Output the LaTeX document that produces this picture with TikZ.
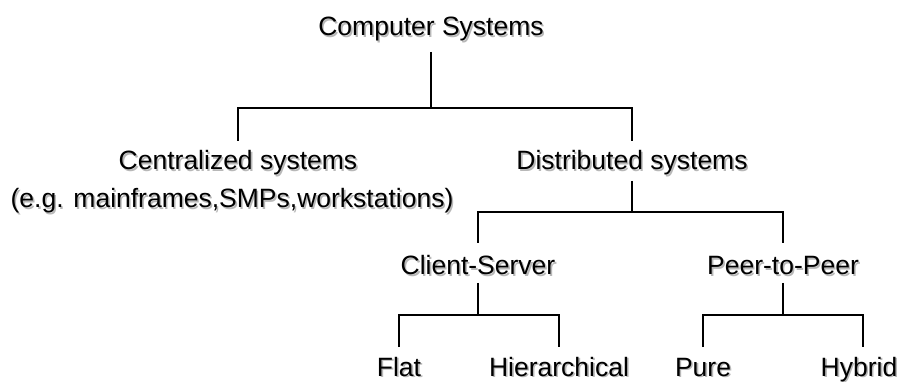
\documentclass[tikz,border=0pt]{standalone}
\usepackage{fontspec}
\setmainfont{Liberation Sans}
\usetikzlibrary{calc}

% label with a soft grey drop shadow behind it
\newcommand\shadowlabel[3]{%
  \node[shadowtxt] (#1-sh) at (#2) {#3};
  \node[lbl] (#1) at (#2) {#3};}

\begin{document}
\begin{tikzpicture}[x=1pt,y=-1pt,
  lbl/.style={font=\fontsize{26.5}{30}\selectfont, anchor=base, inner sep=0pt},
  shadowtxt/.style={lbl, text=black!28, xshift=1.6pt, yshift=-1.6pt},
  branch/.style={line width=1.4pt, black}]
\useasboundingbox (0,0) rectangle (900,382);

% labels
\shadowlabel{cs}{431,36}{Computer Systems}
\shadowlabel{cen}{238,170}{Centralized systems}
\shadowlabel{eg}{232,208}{(e.g. mainframes,SMPs,workstations)}
\shadowlabel{dist}{632,170}{Distributed systems}
\shadowlabel{cls}{478,275}{Client-Server}
\shadowlabel{p2p}{783,275}{Peer-to-Peer}
\shadowlabel{flat}{399,376}{Flat}
\shadowlabel{hier}{559,376}{Hierarchical}
\shadowlabel{pure}{703,376}{Pure}
\shadowlabel{hyb}{859,376}{Hybrid}

% junctions of the tree
\coordinate (j0) at ($(cs.base)+(0,72)$);
\coordinate (j1) at ($(dist.base)+(0,42)$);
\coordinate (j2) at ($(cls.base)+(0,40)$);
\coordinate (j3) at ($(p2p.base)+(0,40)$);

% connectors
\draw[branch] ($(cs.base)+(0,16)$) -- (j0);
\draw[branch] ($(cen.base)+(0,-29)$) |- (j0) -| ($(dist.base)+(0,-29)$);

\draw[branch] ($(dist.base)+(0,11)$) -- (j1);
\draw[branch] ($(cls.base)+(0,-32)$) |- (j1) -| ($(p2p.base)+(0,-32)$);

\draw[branch] ($(cls.base)+(0,8)$) -- (j2);
\draw[branch] ($(flat.base)+(0,-29)$) |- (j2) -| ($(hier.base)+(0,-29)$);

\draw[branch] ($(p2p.base)+(0,8)$) -- (j3);
\draw[branch] ($(pure.base)+(0,-29)$) |- (j3) -| ($(hyb.base)+(4,-29)$);
\end{tikzpicture}
\end{document}
